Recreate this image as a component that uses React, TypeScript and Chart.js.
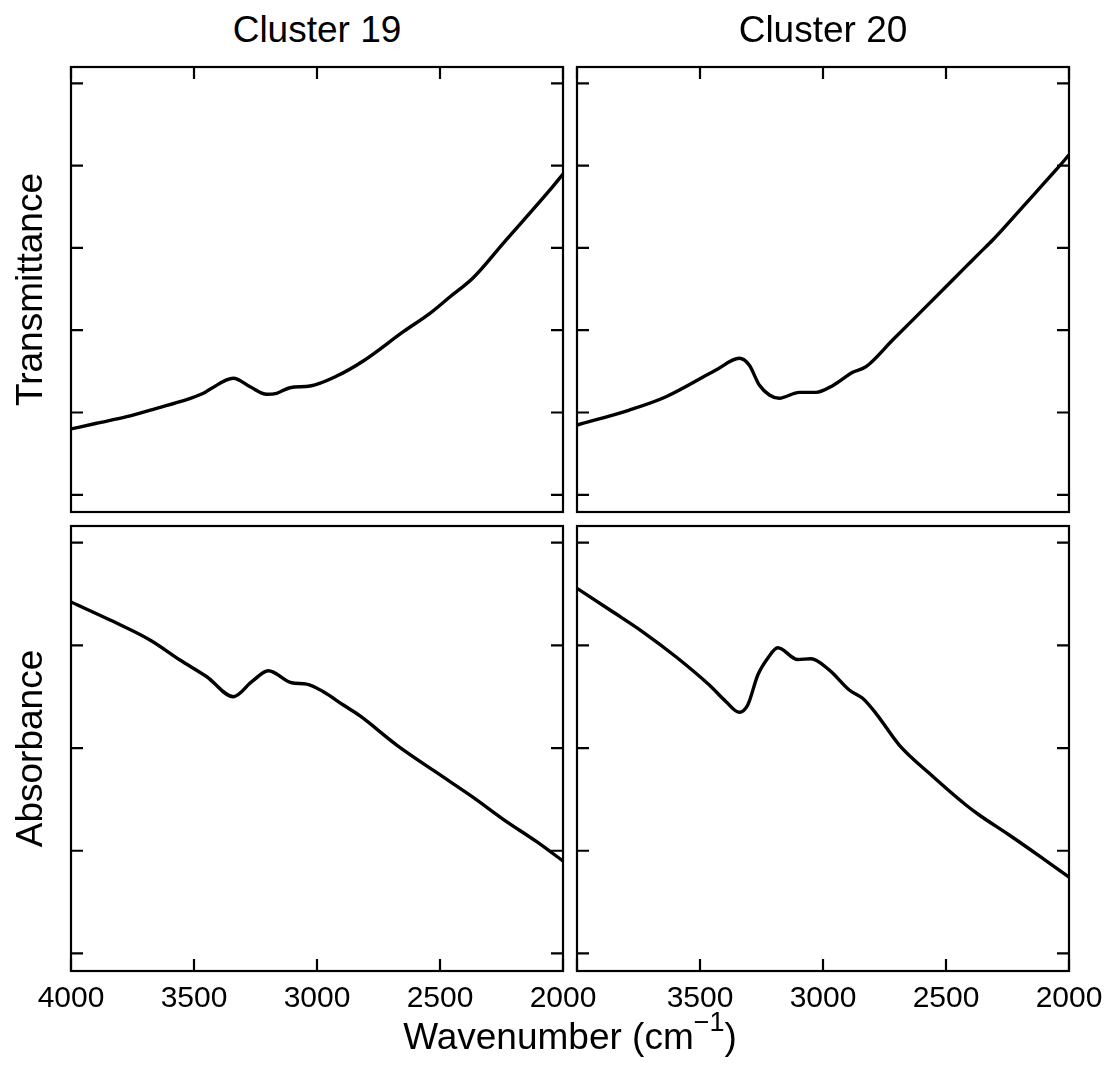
import React, { useEffect, useRef } from "react";
import { Chart, registerables } from "chart.js";

Chart.register(...registerables);

// ---------- data ----------
const X_TICKS = [4000, 3500, 3000, 2500, 2000];
const TOP_Y_TICKS = [0, 1, 2, 3, 4, 5];
const BOTTOM_Y_TICKS = [0, 1, 2, 3, 4];
const TOP_Y_RANGE = [-0.209, 5.198];
const BOTTOM_Y_RANGE = [-0.171, 4.162];

const PANEL_TITLES = ["Cluster 19", "Cluster 20"];
const ROW_TITLES = ["Transmittance", "Absorbance"];
const X_TITLE = "Wavenumber (cm";
const X_TITLE_SUP = "\u22121";

// Cluster 19 – transmittance
const c19TransWn = [4000, 3896, 3774, 3665, 3557, 3462, 3435, 3340, 3272, 3204, 3164, 3110, 3028, 2920, 2812, 2649, 2541, 2459, 2365, 2243, 2053, 2000];
const c19TransVal = [0.8, 0.869, 0.949, 1.039, 1.131, 1.233, 1.282, 1.416, 1.313, 1.221, 1.233, 1.301, 1.322, 1.443, 1.626, 1.982, 2.205, 2.407, 2.638, 3.056, 3.704, 3.898];

// Cluster 20 – transmittance
const c20TransWn = [4000, 3787, 3638, 3435, 3340, 3300, 3259, 3218, 3178, 3096, 3028, 2961, 2879, 2825, 2717, 2581, 2419, 2365, 2310, 2175, 2053, 2000];
const c20TransVal = [0.848, 1.03, 1.192, 1.516, 1.659, 1.577, 1.334, 1.213, 1.173, 1.245, 1.245, 1.326, 1.488, 1.557, 1.881, 2.286, 2.772, 2.934, 3.096, 3.542, 3.947, 4.129];

// Cluster 19 – absorbance
const c19AbsWn = [4000, 3841, 3679, 3557, 3448, 3340, 3265, 3198, 3103, 3042, 2974, 2893, 2825, 2676, 2513, 2365, 2243, 2107, 2000];
const c19AbsVal = [3.422, 3.246, 3.052, 2.857, 2.694, 2.5, 2.646, 2.753, 2.636, 2.623, 2.548, 2.419, 2.312, 2.029, 1.76, 1.52, 1.306, 1.088, 0.9];

// Cluster 20 – absorbance
const c20AbsWn = [4000, 3855, 3733, 3598, 3462, 3394, 3340, 3306, 3265, 3225, 3184, 3103, 3049, 2974, 2893, 2839, 2785, 2690, 2568, 2419, 2365, 2243, 2107, 2000];
const c20AbsVal = [3.555, 3.327, 3.132, 2.889, 2.613, 2.451, 2.348, 2.419, 2.711, 2.873, 2.977, 2.862, 2.87, 2.759, 2.565, 2.484, 2.338, 2.029, 1.754, 1.445, 1.348, 1.153, 0.926, 0.744];

// ---------- layout ----------
const FONT = '"Liberation Sans", Arial, Helvetica, sans-serif';
const PANEL_W = 492;
const PANEL_H = 445;
const COL_LEFT = [71, 577];
const ROW_TOP = [67, 526];
const PAD = { left: 45, right: 36, top: 6, bottom: 50 };

type PanelProps = {
  wn: number[];
  val: number[];
  yRange: number[];
  yTicks: number[];
  left: number;
  top: number;
  tickSide: "top" | "bottom";
  xLabels: number[];
};

function Panel(props: PanelProps) {
  const ref = useRef<HTMLCanvasElement | null>(null);
  useEffect(() => {
    const canvas = ref.current;
    if (!canvas) return;
    const framePlugin = {
      id: "frame",
      afterDraw(chart: any) {
        const { ctx, chartArea } = chart;
        const xs = chart.scales.x;
        const ys = chart.scales.y;
        const { left, right, top, bottom } = chartArea;
        const TL = 12;
        ctx.save();
        ctx.strokeStyle = "#000";
        ctx.lineWidth = 2.2;
        ctx.strokeRect(left, top, right - left, bottom - top);
        ctx.beginPath();
        for (const v of props.yTicks) {
          const py = ys.getPixelForValue(v);
          ctx.moveTo(left, py);
          ctx.lineTo(left + TL, py);
          ctx.moveTo(right, py);
          ctx.lineTo(right - TL, py);
        }
        for (const v of X_TICKS) {
          const px = xs.getPixelForValue(v);
          if (props.tickSide === "top") {
            ctx.moveTo(px, top);
            ctx.lineTo(px, top + TL);
          } else {
            ctx.moveTo(px, bottom);
            ctx.lineTo(px, bottom - TL);
          }
        }
        ctx.stroke();
        ctx.fillStyle = "#000";
        ctx.font = `30px ${FONT}`;
        ctx.textAlign = "center";
        ctx.textBaseline = "alphabetic";
        for (const v of props.xLabels) {
          const px = xs.getPixelForValue(v);
          ctx.fillText(String(v), px, bottom + 36);
        }
        ctx.restore();
      },
    };
    const chart = new Chart(canvas, {
      type: "line",
      data: {
        datasets: [
          {
            data: props.wn.map((w, i) => ({ x: w, y: props.val[i] })),
            borderColor: "#000",
            borderWidth: 3.4,
            pointRadius: 0,
            fill: false,
            cubicInterpolationMode: "monotone",
          },
        ],
      },
      options: {
        responsive: false,
        animation: false,
        events: [],
        layout: { padding: PAD },
        plugins: { legend: { display: false }, tooltip: { enabled: false } },
        scales: {
          x: { type: "linear", reverse: true, min: 2000, max: 4000, display: false },
          y: { type: "linear", min: props.yRange[0], max: props.yRange[1], display: false },
        },
      },
      plugins: [framePlugin],
    } as any);
    return () => chart.destroy();
  }, []);
  return (
    <canvas
      ref={ref}
      width={PANEL_W + PAD.left + PAD.right}
      height={PANEL_H + PAD.top + PAD.bottom}
      style={{
        position: "absolute",
        left: props.left - PAD.left,
        top: props.top - PAD.top,
        width: PANEL_W + PAD.left + PAD.right,
        height: PANEL_H + PAD.top + PAD.bottom,
      }}
    />
  );
}

export default function App() {
  const baseText: React.CSSProperties = {
    position: "absolute",
    fontFamily: FONT,
    fontSize: 37,
    lineHeight: "37px",
    color: "#000",
    whiteSpace: "nowrap",
    textAlign: "center",
  };
  return (
    <div
      style={{
        position: "absolute",
        left: 0,
        top: 0,
        width: 1107,
        height: 1076,
        overflow: "hidden",
        background: "#fff",
      }}
    >
      <Panel wn={c19TransWn} val={c19TransVal} yRange={TOP_Y_RANGE} yTicks={TOP_Y_TICKS} left={COL_LEFT[0]} top={ROW_TOP[0]} tickSide="top" xLabels={[]} />
      <Panel wn={c20TransWn} val={c20TransVal} yRange={TOP_Y_RANGE} yTicks={TOP_Y_TICKS} left={COL_LEFT[1]} top={ROW_TOP[0]} tickSide="top" xLabels={[]} />
      <Panel wn={c19AbsWn} val={c19AbsVal} yRange={BOTTOM_Y_RANGE} yTicks={BOTTOM_Y_TICKS} left={COL_LEFT[0]} top={ROW_TOP[1]} tickSide="bottom" xLabels={X_TICKS} />
      <Panel wn={c20AbsWn} val={c20AbsVal} yRange={BOTTOM_Y_RANGE} yTicks={BOTTOM_Y_TICKS} left={COL_LEFT[1]} top={ROW_TOP[1]} tickSide="bottom" xLabels={X_TICKS.slice(1)} />

      {PANEL_TITLES.map((t, i) => (
        <div key={t} style={{ ...baseText, left: COL_LEFT[i], top: 11, width: PANEL_W }}>
          {t}
        </div>
      ))}

      {ROW_TITLES.map((t, i) => (
        <div
          key={t}
          style={{
            ...baseText,
            left: 29.2 - PANEL_H / 2,
            top: ROW_TOP[i] + PANEL_H / 2 - 18.5,
            width: PANEL_H,
            height: 37,
            transform: "rotate(-90deg)",
          }}
        >
          {t}
        </div>
      ))}

      <div style={{ ...baseText, left: 270, top: 1018, width: 600 }}>
        {X_TITLE}
        <span style={{ fontSize: 27, position: "relative", top: -18 }}>{X_TITLE_SUP}</span>)
      </div>
    </div>
  );
}
